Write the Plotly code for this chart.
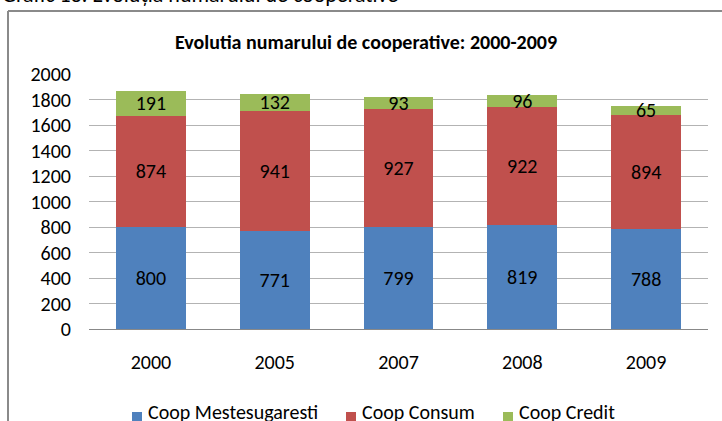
import plotly.graph_objects as go

years = ["2000", "2005", "2007", "2008", "2009"]
mestesugaresti = [800, 771, 799, 819, 788]
consum = [874, 941, 927, 922, 894]
credit = [191, 132, 93, 96, 65]
series_names = ["Coop Mestesugaresti", "Coop Consum", "Coop Credit"]
colors = ["#4F81BD", "#C0504D", "#9BBB59"]
y_ticks = [0, 200, 400, 600, 800, 1000, 1200, 1400, 1600, 1800, 2000]

W, H = 722, 421
L, R, T, B = 89, 708, 74, 329
FONT = "Carlito, Calibri, Liberation Sans, sans-serif"

def px2x(px):
    return (px - L) / (R - L)

def px2y(py):
    return (B - py) / (B - T)

fig = go.Figure()
for name, vals, col in zip(series_names, [mestesugaresti, consum, credit], colors):
    fig.add_trace(go.Bar(
        name=name, x=years, y=vals,
        marker=dict(color=col, line=dict(width=0)),
        text=[str(v) for v in vals],
        textposition="inside", insidetextanchor="middle", textangle=0,
        textfont=dict(color="#000000", size=20, family=FONT),
        constraintext="none",
        hoverinfo="skip",
    ))

fig.update_layout(
    width=W, height=H,
    barmode="stack", bargap=0.435,
    margin=dict(l=L, r=W - R, t=T, b=H - B, pad=0, autoexpand=False),
    plot_bgcolor="white", paper_bgcolor="white",
    font=dict(family=FONT, size=20, color="#000000"),
    uniformtext=dict(minsize=20, mode="show"),
    showlegend=False,
    xaxis=dict(showgrid=False, showline=True, linecolor="#888888", linewidth=1,
               ticks="", tickfont=dict(size=20), ticklabelstandoff=15, fixedrange=True),
    yaxis=dict(range=[0, 2000], tickvals=y_ticks, showgrid=True, gridcolor="#b3b3b3",
               gridwidth=1, zeroline=False, showline=False, ticks="",
               tickfont=dict(size=20), ticklabelstandoff=17, fixedrange=True),
)

# Legend drawn manually (Excel-style compact legend)
legend_square_x = [132, 346, 503]
for name, col, sx in zip(series_names, colors, legend_square_x):
    fig.add_shape(type="rect", xref="paper", yref="paper",
                  x0=px2x(sx), x1=px2x(sx + 10), y0=px2y(412), y1=px2y(422),
                  line=dict(width=0), fillcolor=col)
    fig.add_annotation(text=name, xref="paper", yref="paper",
                       x=px2x(sx + 14), y=px2y(412), xanchor="left", yanchor="middle",
                       showarrow=False, font=dict(size=20, family=FONT, color="#000000"))

# Chart frame (left and top borders)
fig.add_shape(type="line", xref="paper", yref="paper",
              x0=px2x(8), x1=px2x(8), y0=px2y(11), y1=px2y(430),
              line=dict(color="#8a8a8a", width=2))
fig.add_shape(type="line", xref="paper", yref="paper",
              x0=px2x(8), x1=px2x(730), y0=px2y(11), y1=px2y(11),
              line=dict(color="#8a8a8a", width=2))

fig.add_annotation(text="<b>Evolutia numarului de cooperative: 2000-2009</b>",
                   xref="paper", yref="paper", x=px2x(366), y=px2y(42),
                   xanchor="center", yanchor="middle", showarrow=False,
                   font=dict(size=20, family=FONT, color="#000000"))
fig.add_annotation(text="Grafic 13. Evoluția numarului de cooperative",
                   xref="paper", yref="paper", x=px2x(0), y=px2y(-6),
                   xanchor="left", yanchor="middle", showarrow=False,
                   font=dict(size=22, family=FONT, color="#000000"))

fig.write_html("out.html", config={"displayModeBar": False},
               post_script="document.body.style.margin='0';document.body.style.padding='0';")
